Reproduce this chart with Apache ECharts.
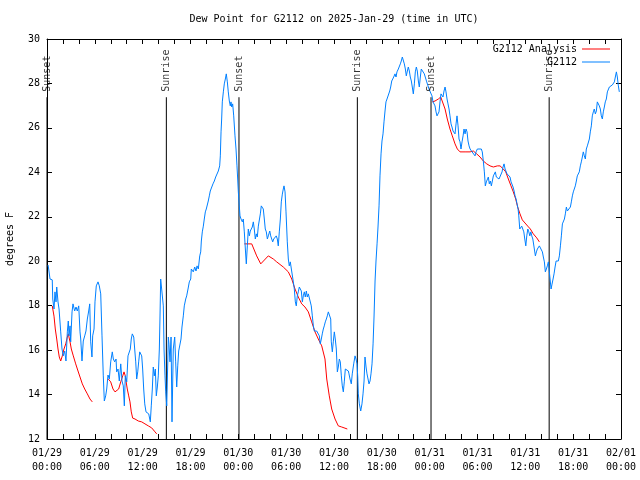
<!DOCTYPE html>
<html><head><meta charset="utf-8">
<script src="https://cdn.jsdelivr.net/npm/echarts@6/dist/echarts.min.js"></script>
<style>html,body{margin:0;padding:0;background:#fff}#c{width:640px;height:480px}</style>
</head><body><div id="c"></div>
<script>
const FONT = 'DejaVu Sans Mono';
const titleText = 'Dew Point for G2112 on 2025-Jan-29 (time in UTC)';
const yAxisTitle = 'degrees F';
const xTickLabels = ['01/29\n00:00','01/29\n06:00','01/29\n12:00','01/29\n18:00','01/30\n00:00','01/30\n06:00','01/30\n12:00','01/30\n18:00','01/31\n00:00','01/31\n06:00','01/31\n12:00','01/31\n18:00','02/01\n00:00'];
const xMin = 0, xMax = 72, xStep = 6;
const yMin = 12, yMax = 30, yStep = 2;
const sunEventNames = ['Sunset','Sunrise','Sunset','Sunrise','Sunset','Sunrise'];
const sunEventHours = [0.0, 14.97, 24.08, 38.93, 48.17, 62.99];
const sunLineTop = 27.38;

// hours since 01/29 00:00 UTC, dew point (F)
const analysis = [
[0.66,17.99],[0.88,17.53],[1.04,16.95],[1.22,16.5],[1.38,16.05],[1.54,15.69],[1.72,15.51],[1.92,15.74],[2.13,16.05],[2.35,16.28],[2.55,16.59],[2.67,16.73],[2.89,16.37],[3.05,16.05],[3.3,15.74],[3.6,15.38],[3.89,15.06],[4.14,14.79],[4.43,14.48],[4.73,14.25],[5.06,14.03],[5.39,13.8],[5.68,13.67],
[6.5,null],
[7.69,14.7],[7.99,14.57],[8.28,14.25],[8.53,14.12],[8.74,14.03],[8.99,14.25],[9.25,14.57],[9.5,14.84],[9.66,15.02],[9.82,14.84],[9.91,14.61],[10.07,14.25],[10.25,13.94],[10.41,13.67],[10.57,13.22],[10.75,12.94],[11.04,12.9],[11.45,12.81],[11.88,12.77],[12.29,12.68],[12.71,12.59],[13.13,12.5],[13.55,12.32],[13.76,12.23],
[19,null],
[24.75,20.78],[25.68,20.78],[26.3,20.24],[26.81,19.88],[27.76,20.24],[28.39,20.1],[28.81,19.97],[29.64,19.74],[30.27,19.52],[30.7,19.2],[31.11,18.75],[31.52,18.39],[31.95,18.08],[32.36,17.94],[32.78,17.72],[33.2,17.27],[33.62,16.82],[34.03,16.5],[34.46,16.19],[34.87,15.6],[35.09,14.7],[35.41,13.94],[35.71,13.35],[36.13,12.9],[36.54,12.59],[36.97,12.54],[37.67,12.45],
[43,null],
[48.33,27.17],[48.67,27.21],[49.09,27.3],[49.39,27.39],[49.64,27.3],[49.93,26.85],[50.21,26.4],[50.55,25.95],[50.84,25.64],[51.18,25.28],[51.47,25.05],[51.81,24.92],[52.44,24.92],[53.07,24.92],[53.48,24.96],[53.9,24.83],[54.32,24.69],[54.73,24.51],[55.16,24.38],[55.57,24.29],[55.99,24.24],[56.49,24.29],[56.83,24.29],[57.24,24.15],[57.54,24.02],[57.87,23.7],[58.2,23.39],[58.49,23.12],[58.79,22.8],[59.04,22.44],[59.33,22.13],[59.62,21.86],[59.96,21.72],[60.3,21.58],[60.63,21.45],[61.0,21.23],[61.43,21.05],[61.76,20.87]
];

const g2112 = [
[0.13,19.83],[0.21,19.65],[0.38,19.2],[0.66,19.16],[0.72,18.3],[0.88,17.85],[1.0,18.62],[1.13,18.17],[1.22,18.84],[1.38,18.17],[1.51,17.85],[1.72,16.82],[1.88,16.05],[2.04,15.74],[2.22,15.96],[2.38,15.51],[2.55,16.82],[2.67,17.31],[2.76,16.64],[2.89,17.09],[2.97,16.37],[3.14,17.72],[3.26,18.08],[3.47,17.76],[3.64,17.94],[3.8,17.76],[3.98,17.99],[4.14,16.82],[4.23,16.5],[4.39,15.51],[4.55,16.41],[4.73,16.64],[4.89,16.86],[5.06,17.4],[5.23,17.76],[5.36,18.08],[5.48,16.37],[5.64,15.69],[5.73,16.64],[5.9,16.95],[6.02,18.17],[6.18,18.89],[6.4,19.07],[6.56,18.89],[6.74,18.53],[6.9,16.64],[7.06,14.84],[7.19,13.71],[7.36,13.94],[7.49,14.25],[7.65,14.88],[7.82,14.7],[7.99,15.47],[8.19,15.92],[8.32,15.6],[8.49,15.47],[8.66,15.6],[8.74,15.02],[8.91,15.15],[9.07,14.61],[9.25,15.38],[9.41,14.61],[9.57,14.39],[9.7,13.49],[9.82,14.84],[10.0,14.57],[10.16,15.74],[10.32,15.69],[10.45,16.05],[10.57,16.5],[10.7,16.73],[10.88,16.59],[11.0,16.05],[11.13,15.47],[11.25,14.7],[11.38,15.02],[11.5,15.47],[11.63,15.92],[11.75,15.96],[11.88,15.74],[12.0,15.15],[12.13,14.25],[12.26,13.58],[12.42,13.22],[12.58,13.26],[12.76,13.13],[12.96,12.77],[13.08,13.49],[13.21,14.25],[13.33,15.24],[13.46,14.84],[13.59,15.15],[13.71,13.94],[13.84,14.34],[13.96,14.84],[14.09,16.05],[14.17,17.4],[14.26,19.2],[14.46,19.2],[14.59,17.99],[14.68,16.05],[14.8,14.84],[14.89,14.12],[15.02,13.49],[15.22,16.59],[15.3,16.27],[15.43,15.47],[15.56,16.59],[15.68,12.77],[15.84,16.05],[16.02,16.59],[16.14,15.47],[16.27,14.34],[16.4,15.29],[16.52,15.96],[16.68,16.05],[16.81,16.5],[16.93,17.04],[17.1,17.54],[17.22,17.99],[17.4,18.3],[17.52,18.44],[17.69,18.75],[17.85,19.07],[18.03,19.2],[18.1,19.65],[18.23,19.74],[18.35,19.52],[18.53,19.74],[18.69,19.56],[18.82,19.79],[18.98,19.65],[19.16,20.24],[19.28,20.42],[19.36,20.91],[19.48,21.32],[19.61,21.58],[19.73,21.9],[19.86,22.22],[19.98,22.35],[20.11,22.26],[20.23,22.71],[20.36,22.94],[20.48,23.16],[20.66,23.25],[20.82,23.48],[20.99,23.61],[21.16,23.79],[21.32,23.84],[21.49,24.06],[21.66,24.29],[21.74,24.74],[21.83,25.82],[21.91,26.4],[21.99,27.17],[22.12,27.62],[22.24,27.98],[22.37,28.2],[22.49,28.43],[22.62,28.07],[22.74,27.62],[22.87,27.21],[22.99,26.99],[23.08,27.17],[23.17,26.94],[23.29,27.08],[23.42,26.54],[23.58,25.64],[23.71,25.05],[23.83,24.29],[23.92,23.7],[24.0,23.12],[24.12,22.49],[24.21,22.04],[24.34,21.9],[24.5,21.77],[24.62,21.9],[24.75,21.32],[24.88,20.55],[25.0,19.88],[25.13,20.69],[25.25,21.45],[25.38,21.14],[25.5,21.36],[25.63,21.36],[25.75,21.54],[25.88,21.77],[26.0,21.45],[26.13,21.0],[26.26,21.23],[26.38,21.09],[26.51,21.58],[26.63,21.58],[26.76,22.13],[26.88,22.49],[27.01,22.58],[27.13,22.35],[27.26,21.9],[27.38,21.45],[27.51,21.32],[27.64,21.0],[27.76,21.14],[27.94,21.36],[28.06,21.14],[28.19,21.23],[28.31,20.87],[28.44,21.0],[28.6,21.09],[28.76,21.14],[28.89,21.0],[29.01,20.69],[29.14,21.32],[29.27,21.9],[29.39,22.67],[29.52,23.02],[29.64,23.25],[29.73,23.39],[29.86,23.12],[29.98,22.22],[30.14,20.87],[30.27,20.1],[30.39,19.79],[30.52,19.97],[30.65,19.65],[30.77,19.74],[30.9,19.07],[31.02,18.75],[31.15,18.17],[31.27,17.99],[31.4,18.44],[31.52,18.62],[31.65,18.84],[31.77,18.89],[31.9,18.66],[32.03,18.17],[32.15,18.44],[32.28,18.62],[32.4,18.39],[32.53,18.66],[32.65,18.39],[32.78,18.53],[32.9,18.62],[33.03,18.44],[33.15,17.99],[33.28,17.54],[33.41,17.09],[33.53,16.86],[33.83,16.86],[34.03,16.86],[34.16,16.64],[34.28,16.28],[34.41,16.5],[34.53,16.73],[34.66,16.95],[34.78,17.09],[34.91,17.27],[35.04,17.4],[35.16,17.54],[35.29,17.72],[35.46,17.72],[35.59,17.4],[35.66,16.37],[35.79,15.92],[35.91,16.37],[36.04,16.82],[36.16,16.5],[36.29,16.05],[36.42,15.02],[36.54,15.24],[36.67,15.6],[36.79,15.47],[36.92,14.84],[37.04,14.39],[37.17,14.12],[37.29,14.57],[37.42,15.15],[37.55,15.24],[37.67,15.15],[37.8,15.06],[37.88,14.93],[38.01,14.7],[38.17,14.48],[38.29,14.93],[38.47,15.38],[38.64,15.74],[38.76,15.6],[38.89,15.38],[38.98,14.79],[39.05,14.03],[39.18,13.58],[39.35,13.26],[39.51,13.58],[39.64,14.03],[39.77,14.61],[39.89,15.69],[40.02,15.24],[40.14,14.93],[40.27,14.7],[40.39,14.48],[40.52,14.61],[40.64,14.93],[40.77,15.38],[40.9,16.28],[41.02,17.49],[41.15,19.11],[41.27,20.01],[41.4,20.78],[41.52,21.54],[41.65,22.49],[41.77,23.84],[41.9,24.83],[42.02,25.41],[42.15,25.73],[42.27,26.27],[42.4,26.76],[42.52,27.17],[42.65,27.3],[42.81,27.39],[42.99,27.66],[43.11,27.84],[43.24,28.11],[43.36,28.2],[43.49,28.29],[43.65,28.43],[43.78,28.29],[43.9,28.52],[44.07,28.65],[44.19,28.74],[44.32,28.88],[44.44,29.01],[44.57,29.19],[44.69,29.1],[44.82,28.88],[44.95,28.65],[45.07,28.34],[45.2,28.56],[45.32,28.74],[45.45,28.56],[45.57,28.29],[45.7,28.11],[45.82,27.84],[45.95,27.53],[46.08,27.98],[46.2,28.52],[46.33,28.74],[46.45,28.56],[46.58,28.11],[46.7,27.84],[46.83,28.29],[46.95,28.65],[47.08,28.56],[47.2,28.56],[47.33,28.43],[47.45,28.34],[47.63,28.07],[47.79,27.89],[47.92,27.75],[48.04,27.84],[48.17,27.66],[48.29,27.44],[48.42,27.17],[48.55,27.08],[48.67,26.99],[48.8,26.72],[48.92,26.54],[49.05,26.63],[49.17,26.72],[49.3,27.17],[49.42,27.53],[49.55,27.44],[49.67,27.39],[49.8,27.66],[49.93,27.84],[50.05,27.62],[50.18,27.3],[50.3,27.08],[50.43,26.85],[50.55,26.54],[50.68,26.18],[50.8,26.04],[50.93,25.86],[51.06,25.82],[51.18,25.73],[51.31,26.18],[51.43,26.54],[51.56,26.09],[51.68,25.5],[51.81,25.37],[51.93,25.05],[52.06,25.37],[52.19,25.64],[52.31,25.95],[52.44,25.73],[52.56,25.95],[52.69,25.82],[52.81,25.41],[52.94,25.19],[53.07,25.05],[53.19,25.05],[53.32,24.92],[53.44,24.96],[53.57,24.92],[53.69,24.74],[53.82,24.92],[53.98,25.05],[54.19,25.05],[54.48,25.05],[54.6,24.92],[54.73,24.51],[54.86,24.02],[54.98,23.39],[55.11,23.57],[55.23,23.61],[55.36,23.79],[55.48,23.48],[55.61,23.61],[55.74,23.39],[55.86,23.61],[55.99,23.84],[56.11,23.93],[56.24,24.02],[56.36,23.79],[56.54,23.7],[56.7,23.7],[56.95,23.79],[57.08,24.02],[57.2,24.24],[57.33,24.38],[57.46,24.15],[57.58,24.06],[57.71,23.93],[57.83,24.02],[57.96,23.84],[58.08,23.79],[58.21,23.57],[58.34,23.48],[58.46,23.34],[58.59,23.16],[58.71,22.94],[58.84,22.8],[58.96,22.58],[59.09,22.35],[59.18,22.04],[59.3,21.45],[59.43,21.45],[59.55,21.58],[59.68,21.58],[59.81,21.32],[59.93,21.0],[60.06,20.69],[60.18,21.14],[60.31,21.45],[60.44,21.32],[60.56,21.14],[60.69,21.32],[60.81,21.14],[60.94,21.0],[61.06,21.09],[61.19,20.91],[61.26,20.24],[61.39,20.42],[61.51,20.55],[61.64,20.64],[61.76,20.69],[61.88,20.73],[62.01,20.64],[62.14,20.42],[62.26,20.19],[62.39,19.97],[62.51,19.52],[62.64,19.65],[62.76,19.79],[62.89,19.97],[62.98,19.97],[63.1,19.2],[63.23,18.75],[63.35,18.97],[63.48,19.2],[63.6,19.43],[63.73,19.74],[63.86,20.01],[64.02,20.01],[64.14,20.01],[64.27,20.24],[64.4,20.69],[64.52,21.14],[64.65,21.68],[64.77,21.77],[64.9,21.9],[65.02,22.13],[65.15,22.44],[65.27,22.26],[65.4,22.35],[65.52,22.22],[65.65,22.44],[65.77,22.67],[65.9,22.94],[66.02,23.12],[66.15,23.12],[66.27,23.39],[66.4,23.61],[66.52,23.84],[66.65,23.79],[66.77,24.02],[66.9,24.29],[67.02,24.47],[67.15,24.69],[67.27,24.92],[67.4,24.74],[67.53,24.6],[67.65,25.05],[67.78,25.19],[67.9,25.14],[68.03,25.5],[68.15,25.82],[68.28,26.09],[68.4,26.54],[68.53,26.72],[68.65,26.85],[68.78,26.63],[68.91,26.76],[69.03,27.17],[69.16,27.21],[69.28,26.99],[69.41,26.85],[69.53,26.54],[69.66,26.4],[69.78,26.72],[69.91,26.94],[70.03,27.17],[70.16,27.3],[70.29,27.62],[70.41,27.66],[70.54,27.84],[70.66,27.89],[70.79,27.93],[70.91,27.93],[71.04,27.98],[71.17,28.07],[71.29,28.29],[71.42,28.52],[71.54,28.29],[71.67,27.89],[71.79,27.62]
];

const RED = '#ff0000', BLUE = '#0080ff';
const txt = {fontFamily: FONT, fontSize: 10, color: '#000'};

const sunSeries = sunEventHours.map((h, i) => ({
  type: 'line', name: 'sun' + i, silent: true, showSymbol: false, animation: false,
  lineStyle: {color: '#000', width: 1}, itemStyle: {color: '#000'},
  data: [[h, yMin], [h, sunLineTop]], z: 2
}));
const sunLabels = {
  type: 'scatter', silent: true, symbolSize: 1, itemStyle: {color: 'rgba(0,0,0,0)'}, z: 5,
  data: sunEventHours.map((h, i) => ({
    value: [h, sunLineTop],
    label: {show: true, formatter: sunEventNames[i], position: 'top', distance: 5,
      rotate: 90, align: 'left', verticalAlign: 'middle', ...txt}
  }))
};

const chart = echarts.init(document.getElementById('c'), null, {renderer: 'canvas'});
chart.setOption({
  animation: false,
  backgroundColor: '#fff',
  title: {text: titleText, left: 334, top: 14, textAlign: 'center', padding: 0,
    textStyle: {...txt, fontWeight: 'normal'}},
  legend: [
    {data: ['G2112 Analysis'], right: 30, top: 44, padding: 0, align: 'right', icon: 'rect',
      itemWidth: 28, itemHeight: 1, textStyle: txt, selectedMode: false},
    {data: ['G2112'], right: 30, top: 57, padding: 0, align: 'right', icon: 'rect',
      itemWidth: 28, itemHeight: 1, textStyle: txt, selectedMode: false}
  ],
  grid: {left: 47, right: 19, top: 39, bottom: 41, containLabel: false, outerBoundsMode: 'none'},
  xAxis: [
    {type: 'value', min: xMin, max: xMax, interval: xStep, position: 'bottom',
      axisLine: {show: true, onZero: false, lineStyle: {color: '#000', width: 1}},
      axisTick: {show: true, inside: true, length: 5, lineStyle: {color: '#000'}},
      minorTick: {show: true, splitNumber: 3, length: 5, lineStyle: {color: '#000'}},
      splitLine: {show: false},
      axisLabel: {...txt, margin: 7, lineHeight: 14,
        formatter: v => xTickLabels[Math.round((v - xMin) / xStep)] || ''}},
    {type: 'value', min: xMin, max: xMax, interval: xStep, position: 'top',
      axisLine: {show: true, onZero: false, lineStyle: {color: '#000', width: 1}},
      axisTick: {show: true, inside: true, length: 5, lineStyle: {color: '#000'}},
      minorTick: {show: true, splitNumber: 3, length: 5, lineStyle: {color: '#000'}},
      splitLine: {show: false}, axisLabel: {show: false}}
  ],
  yAxis: [
    {type: 'value', min: yMin, max: yMax, interval: yStep, position: 'left',
      name: yAxisTitle, nameLocation: 'middle', nameGap: 32, nameRotate: 90, nameTextStyle: txt,
      axisLine: {show: true, onZero: false, lineStyle: {color: '#000', width: 1}},
      axisTick: {show: true, inside: true, length: 5, lineStyle: {color: '#000'}},
      splitLine: {show: false}, axisLabel: {...txt, margin: 7}},
    {type: 'value', min: yMin, max: yMax, interval: yStep, position: 'right',
      axisLine: {show: true, onZero: false, lineStyle: {color: '#000', width: 1}},
      axisTick: {show: true, inside: true, length: 5, lineStyle: {color: '#000'}},
      splitLine: {show: false}, axisLabel: {show: false}}
  ],
  series: [
    ...sunSeries,
    {type: 'line', name: 'G2112 Analysis', data: analysis, showSymbol: false, connectNulls: false,
      lineStyle: {color: RED, width: 1}, itemStyle: {color: RED}, z: 3},
    {type: 'line', name: 'G2112', data: g2112, showSymbol: false,
      lineStyle: {color: BLUE, width: 1}, itemStyle: {color: BLUE}, z: 4},
    sunLabels
  ]
});
</script>
</body></html>
